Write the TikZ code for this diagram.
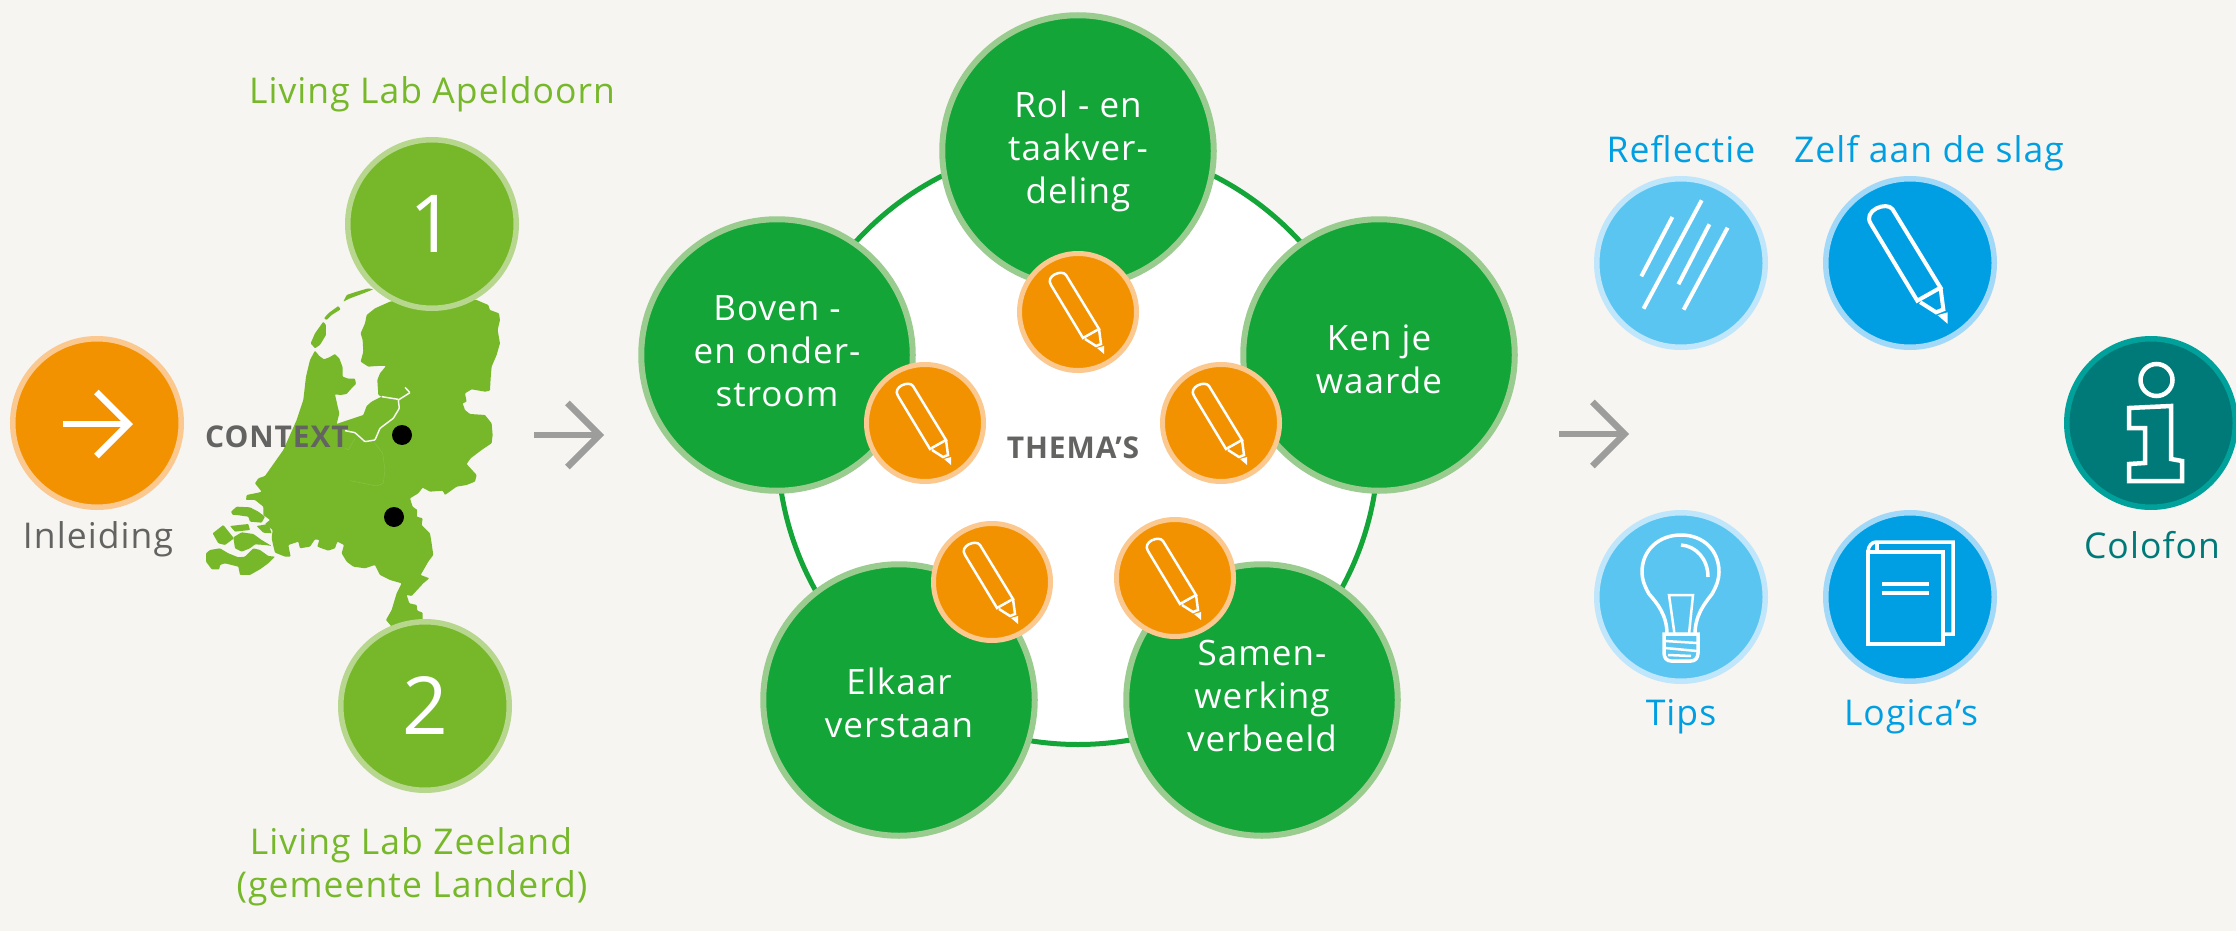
\documentclass[tikz,border=0pt]{standalone}
\usepackage{xcolor}
\usepackage{fontspec}
\setmainfont{Open Sans}[LetterSpace=3]
\usetikzlibrary{arrows.meta}
\definecolor{paper}{HTML}{F6F5F1}
\definecolor{mapgreen}{HTML}{76B82A}
\definecolor{mapring}{HTML}{B7D68E}
\definecolor{themagreen}{HTML}{13A538}
\definecolor{themaring}{HTML}{9ACB8F}
\definecolor{penorange}{HTML}{F39200}
\definecolor{penring}{HTML}{FBC88F}
\definecolor{darkblue}{HTML}{009FE3}
\definecolor{darkring}{HTML}{A3D9F8}
\definecolor{lightblue}{HTML}{5BC5F2}
\definecolor{lightring}{HTML}{BFE6FA}
\definecolor{tealfill}{HTML}{007A78}
\definecolor{tealring}{HTML}{00A19A}
\definecolor{graytext}{HTML}{636362}
\definecolor{grayarrow}{HTML}{9D9D9C}
\tikzset{
    disc/.style={circle, inner sep=0pt, outer sep=0pt, line width=5.5pt, minimum size=168.5pt},
    themadisc/.style={disc, fill=themagreen, draw=themaring, line width=6pt, minimum size=271.5pt},
    pendisc/.style={disc, fill=penorange, draw=penring, line width=5pt, minimum size=117pt},
    caption/.style={inner sep=0pt, anchor=base, font=\fontsize{35.5}{43}\selectfont},
    themalabel/.style={inner sep=0pt, align=center, text=white, font=\fontsize{35}{43}\selectfont},
    boldlabel/.style={inner sep=0pt, anchor=base, text=graytext, font=\fontsize{30}{36}\selectfont\bfseries},
    walkarrow/.style={line width=6.5pt, -{Straight Barb[length=32pt, width=64pt]}},
    icon/.style={draw=white, line width=3.5pt},
    pencil/.pic={
        \draw[pic actions] (-27,-27) -- (5,26) -- (21,17) -- (-12,-37) .. controls (-16,-43) and (-33,-36) .. cycle;
        \draw[pic actions] (7,27) -- (18,34) -- (23,32) -- (21,17);
        \fill[white] (19,36) -- (26,34) -- (26,42) -- cycle;
    },
    rain/.pic={
        \draw[pic actions] (-8.6,-46) -- (-39.7,13.3);
        \draw[pic actions] (20.7,-62.7) -- (-37.5,45.7);
        \draw[pic actions] (28.4,-38.7) -- (-2.6,21.3);
        \draw[pic actions] (46.6,-35.3) -- (2.6,46.7);
    },
    bulb/.pic={
        \draw[pic actions] (-14,37) .. controls (-14,18) and (-24,6) .. (-32,-3) .. controls (-37,-12) and (-39,-18) .. (-39,-25) .. controls (-39,-47) and (-22,-62) .. (0,-62) .. controls (22,-62) and (38,-47) .. (38,-25) .. controls (38,-18) and (36,-12) .. (31,-3) .. controls (24,6) and (14,18) .. (14,37);
        \draw[pic actions] (0,-52) .. controls (15,-51) and (27,-38) .. (27,-20);
        \draw[pic actions, line width=2.5pt] (-12,-2) -- (12,-2) -- (8,37) -- (-6.5,37) -- cycle;
        \draw[pic actions] (-17,37) -- (17,37) -- (17,56) .. controls (17,61) and (14,64) .. (10,64) -- (-10,64) .. controls (-14,64) and (-17,61) .. (-17,56) -- cycle;
        \draw[pic actions, line width=2.5pt] (-16,44) -- (16,46);
        \draw[pic actions, line width=2.5pt] (-16,51) -- (16,54);
        \draw[pic actions, line width=2.5pt] (-13,58) -- (10,59);
    },
    book/.pic={
        \draw[pic actions] (-42,-45) rectangle (33,47);
        \draw[pic actions] (-42,-45) .. controls (-42,-51) and (-38,-55) .. (-34,-55) -- (43,-55) -- (43,37) -- (33,37);
        \draw[pic actions] (-33,-55) -- (-33,-45);
        \draw[pic actions] (-28,-13) -- (19,-13);
        \draw[pic actions] (-28,-4) -- (19,-4);
    },
    infosign/.pic={
        \draw[pic actions] (5.5,-43) circle (16);
        \draw[pic actions] (-22,-15) -- (20,-17) -- (20,36) -- (31,38) -- (31,58) -- (-22,58) -- (-22,41) -- (-6,40) -- (-6,5) -- (-22,5) -- cycle;
    },
}
\begin{document}
\begin{tikzpicture}
    \tikzset{x={(1pt, 0pt)}, y={(0pt, -1pt)}}
    \useasboundingbox (0, 0) rectangle (2236, 931);
    \fill[paper] (0, 0) rectangle (2236, 931);

    \begin{scope}[shift={(200, 280)}, x={(0.3333pt, 0pt)}, y={(0pt, -0.3333pt)}, rounded corners=0.8pt]
        \fill[mapgreen] (345,212) -- (358,228) -- (372,238) -- (388,232) -- (405,222) -- (418,235) -- (428,262) -- (428,290) -- (445,296) -- (465,296) -- (468,312) -- (452,328) -- (440,342) -- (422,345) -- (405,343) -- (412,375) -- (418,400) -- (410,432) -- (430,425) -- (460,415) -- (490,405) -- (500,378) -- (515,365) -- (545,350) -- (535,345) -- (532,300) -- (540,280) -- (558,258) -- (530,258) -- (505,260) -- (482,245) -- (490,215) -- (488,180) -- (482,160) -- (495,130) -- (500,105) -- (525,85) -- (570,65) -- (700,40) -- (830,60) -- (865,75) -- (870,90) -- (897,100) -- (900,120) -- (893,150) -- (900,190) -- (890,225) -- (875,260) -- (872,295) -- (870,332) -- (855,335) -- (815,328) -- (795,340) -- (800,365) -- (788,370) -- (795,390) -- (810,402) -- (855,405) -- (875,430) -- (878,465) -- (875,490) -- (845,510) -- (812,535) -- (800,552) -- (830,585) -- (825,605) -- (800,615) -- (770,620) -- (735,645) -- (728,632) -- (690,635) -- (668,623) -- (655,640) -- (630,655) -- (638,680) -- (652,690) -- (650,710) -- (668,715) -- (665,735) -- (690,760) -- (695,790) -- (700,825) -- (685,845) -- (662,885) -- (688,895) -- (670,910) -- (635,948) -- (620,945) -- (628,970) -- (650,975) -- (652,992) -- (668,998) -- (668,1020) -- (620,1060) -- (575,1040) -- (558,1020) -- (575,990) -- (590,940) -- (605,910) -- (570,900) -- (540,885) -- (525,855) -- (495,865) -- (460,860) -- (440,845) -- (425,820) -- (432,795) -- (412,785) -- (405,805) -- (385,812) -- (365,805) -- (352,800) -- (358,780) -- (345,778) -- (330,800) -- (300,805) -- (295,785) -- (265,795) -- (272,830) -- (255,830) -- (225,818) -- (220,798) -- (215,775) -- (218,750) -- (195,732) -- (210,720) -- (190,705) -- (190,680) -- (165,660) -- (138,660) -- (140,645) -- (175,638) -- (185,635) -- (165,610) -- (175,595) -- (195,588) -- (250,510) -- (290,420) -- (310,360) -- (318,290) -- (330,240) -- cycle;
        \fill[mapgreen] (345,205) -- (332,190) -- (345,160) -- (370,125) -- (378,135) -- (378,165) -- (360,195) -- cycle;
        \fill[mapgreen] (372,115) -- (385,100) -- (415,78) -- (422,88) -- (395,105) -- (380,120) -- cycle;
        \fill[mapgreen] (430,65) -- (440,45) -- (470,35) -- (505,25) -- (520,28) -- (490,40) -- (450,55) -- cycle;
        \draw[paper, line width=1.5pt] (435,452) -- (465,458) -- (495,485) -- (525,480) -- (540,445) -- (580,415) -- (598,385) -- (595,360) -- (630,338) -- (615,322);
        \draw[paper, line width=1.5pt] (545,350) -- (595,358);
        \draw[mapgreen!85!white, line width=0.4pt] (465,475) -- (445,510) -- (435,505);
        \draw[mapgreen!85!white, line width=0.4pt] (525,490) -- (548,520) -- (555,570) -- (550,610) -- (530,618) -- (450,602);
    \end{scope}
    \begin{scope}[shift={(200, 450)}, x={(0.3333pt, 0pt)}, y={(0pt, -0.3333pt)}, rounded corners=0.8pt]
        \fill[mapgreen] (18,310) -- (30,300) -- (60,295) -- (85,310) -- (115,322) -- (135,320) -- (160,295) -- (180,300) -- (205,318) -- (225,320) -- (205,340) -- (180,358) -- (150,375) -- (120,375) -- (115,350) -- (75,340) -- (60,345) -- (58,358) -- (35,358) -- (18,335) -- cycle;
        \fill[mapgreen] (38,250) -- (70,225) -- (102,265) -- (75,285) -- (55,280) -- cycle;
        \fill[mapgreen] (90,228) -- (145,222) -- (150,240) -- (105,245) -- cycle;
        \fill[mapgreen] (100,262) -- (125,247) -- (160,252) -- (185,270) -- (215,288) -- (195,285) -- (165,283) -- (150,295) -- (125,305) -- (105,295) -- cycle;
        \fill[mapgreen] (170,228) -- (205,222) -- (215,250) -- (190,248) -- cycle;
        \fill[mapgreen] (93,185) -- (110,170) -- (150,172) -- (175,185) -- (195,200) -- (185,218) -- (150,215) -- (145,200) -- (110,195) -- (98,195) -- cycle;
    \end{scope}
    \fill[black] (402, 435) circle (10);
    \fill[black] (394, 517) circle (10);

    \node[boldlabel] (context) at (277, 447) {CONTEXT};

    \node[disc, fill=penorange, draw=penring] (inleiding) at (97, 423) {};
    \node[disc, fill=mapgreen, draw=mapring, font=\fontsize{80}{80}\selectfont, text=white] (lab1) at (432, 224) {1};
    \node[disc, fill=mapgreen, draw=mapring, font=\fontsize{80}{80}\selectfont, text=white] (lab2) at (425, 706) {2};

    \node[caption, text=graytext] (inleidingtext) at (98, 548) {Inleiding};
    \node[caption, text=mapgreen] (lab1text) at (432, 104) {Living Lab Apeldoorn};
    \node[caption, text=mapgreen] (lab2text) at (411, 854) {Living Lab Zeeland};
    \node[caption, text=mapgreen] (lab2textb) at (412, 897) {(gemeente Landerd)};

    \coordinate (inleidingtail) at (63, 424);
    \coordinate (inleidingtip) at (133, 424);
    \draw[walkarrow, white] (inleidingtail) -- (inleidingtip);
    \coordinate (contextout) at (534, 435);
    \coordinate (themain) at (604, 435);
    \draw[walkarrow, grayarrow] (contextout) -- (themain);
    \coordinate (themaout) at (1559, 434);
    \coordinate (toolin) at (1629, 434);
    \draw[walkarrow, grayarrow] (themaout) -- (toolin);

    \node[circle, fill=white, draw=themagreen, line width=5pt, inner sep=0pt, minimum size=601pt] (thema) at (1078, 444) {};
    \node[themadisc] (rol) at (1078, 151) {};
    \node[themadisc] (boven) at (777, 355) {};
    \node[themadisc] (ken) at (1379, 355) {};
    \node[themadisc] (elkaar) at (899, 700) {};
    \node[themadisc] (samen) at (1262, 700) {};
    \node[themalabel] (roltext) at (1078, 151) {Rol - en\\taakver-\\deling};
    \node[themalabel] (boventext) at (777, 351) {Boven -\\en onder-\\stroom};
    \node[themalabel] (kentext) at (1379, 359) {Ken je\\waarde};
    \node[themalabel] (elkaartext) at (899, 703) {Elkaar\\verstaan};
    \node[themalabel] (samentext) at (1262, 696) {Samen-\\werking\\verbeeld};
    \node[boldlabel] (themas) at (1073, 458) {THEMA’S};

    \node[pendisc] (penrol) at (1078, 312) {};
    \node[pendisc] (penboven) at (925, 423) {};
    \node[pendisc] (penken) at (1221, 423) {};
    \node[pendisc] (penelkaar) at (992, 582) {};
    \node[pendisc] (pensamen) at (1175, 578) {};
    \pic[icon, line width=2.5pt] at (penrol) {pencil};
    \pic[icon, line width=2.5pt] at (penboven) {pencil};
    \pic[icon, line width=2.5pt] at (penken) {pencil};
    \pic[icon, line width=2.5pt] at (penelkaar) {pencil};
    \pic[icon, line width=2.5pt] at (pensamen) {pencil};

    \node[disc, fill=lightblue, draw=lightring] (reflectie) at (1681, 263) {};
    \node[disc, fill=darkblue, draw=darkring] (zelf) at (1910, 263) {};
    \node[disc, fill=lightblue, draw=lightring] (tips) at (1681, 597) {};
    \node[disc, fill=darkblue, draw=darkring] (logicas) at (1910, 597) {};
    \node[disc, fill=tealfill, draw=tealring] (colofon) at (2151, 423) {};
    \pic[icon, line width=4pt] at (reflectie) {rain};
    \pic[icon, scale=1.45, line width=4pt] at (zelf) {pencil};
    \pic[icon] at (tips) {bulb};
    \pic[icon] at (logicas) {book};
    \pic[icon, line width=4.5pt] at (colofon) {infosign};

    \node[caption, text=darkblue] (reflectietext) at (1681, 163) {Reflectie};
    \node[caption, text=darkblue] (zelftext) at (1929, 163) {Zelf aan de slag};
    \node[caption, text=darkblue] (tipstext) at (1681, 725) {Tips};
    \node[caption, text=darkblue] (logicastext) at (1911, 725) {Logica’s};
    \node[caption, text=tealfill] (colofontext) at (2152, 558) {Colofon};
\end{tikzpicture}
\end{document}
